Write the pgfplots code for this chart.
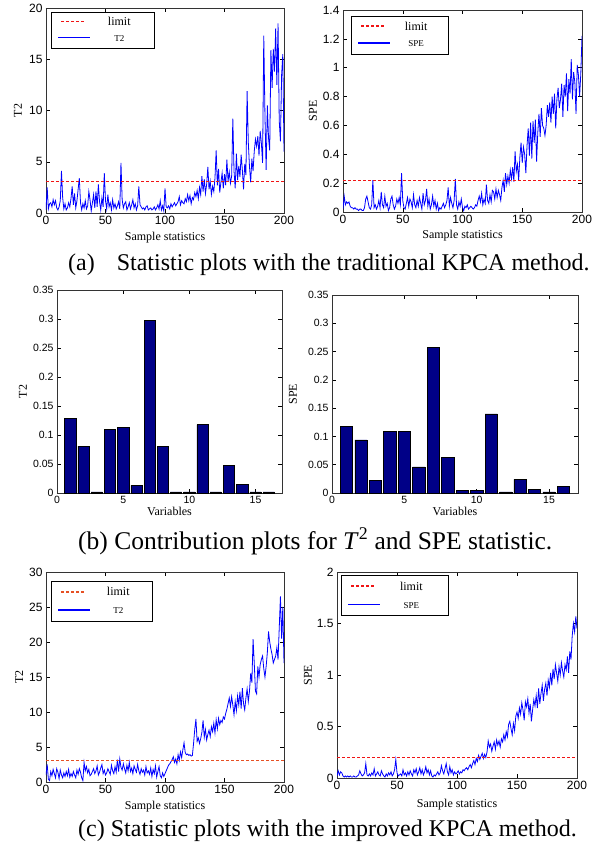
\documentclass[border=0pt]{standalone}
\usepackage{pgfplots}
\pgfplotsset{compat=1.18}
\usepackage{fontspec}
\setmainfont{Liberation Serif}
\newfontfamily\arial{Liberation Sans}

\definecolor{barblue}{RGB}{0,0,135}
\definecolor{limred}{RGB}{240,20,20}
\definecolor{limorange}{RGB}{230,80,35}

% legend samples, set as coloured rules
\newcommand{\dashsample}[1]{{\color{#1}\leaders\hbox to 5pt{\rule[3.3pt]{3pt}{1.4pt}\hfil}\hskip 32pt\relax}}
\newcommand{\solidsample}{{\color{blue}\rule[3.3pt]{32pt}{1.3pt}}}
% #1 limit colour, #2 series name, #3 text box width, #4 row stretch
\newcommand{\lgd}[4]{\def\arraystretch{#4}%
  \begin{tabular}{@{\hspace{7pt}}c@{}c@{\hspace{6pt}}}
    \dashsample{#1} & \makebox[#3]{limit}\\
    \solidsample & \makebox[#3]{\fontsize{9}{10}\selectfont #2}
  \end{tabular}}

\pgfplotsset{
  mat/.style={
    scale only axis,
    axis line style={line width=0.5pt, black!80},
    tick style={line width=0.5pt, black},
    major tick length=4pt,
    scaled ticks=false,
    /pgf/number format/assume math mode=true,
    /pgf/number format/fixed,
    /pgf/number format/precision=2,
    tick label style={font=\arial\fontsize{12}{14}\selectfont},
    label style={font=\fontsize{12}{14}\selectfont},
    ylabel style={anchor=center},
    xlabel style={anchor=center},
  },
  bars/.style={ybar, bar width=0.85, fill=barblue, draw=black, line width=0.5pt},
}
\tikzset{lgdbox/.style={draw=black, line width=0.6pt, anchor=north west,
    inner xsep=0pt, inner ysep=2pt, fill=white, font=\fontsize{12}{14}\selectfont}}

\begin{document}
\begin{tikzpicture}
\path[use as bounding box] (0,0) rectangle (597pt,-846pt);

% (a) traditional KPCA, T2
\begin{axis}[mat, at={(46pt,-213pt)}, anchor=south west,
    width=238pt, height=205pt,
    xmin=0, xmax=200, ymin=0, ymax=20,
    xtick={0,50,...,200}, ytick={0,5,...,20},
    xlabel={Sample statistics}, ylabel={T2},
    xlabel style={at={(axis description cs:0.5,-0.122)}},
    ylabel style={at={(axis description cs:-0.118,0.5)}},
  ]
  \addplot[draw=blue, line width=0.8pt] coordinates {
    (0,0.3)(1,2.5)(2,0.4)(3,0.9)(4,1.0)(5,0.6)(6,1.3)(7,0.8)(8,1.2)(9,0.5)
    (10,0.3)(11,0.6)(12,1.2)(13,4.1)(14,1.5)(15,0.4)(16,0.9)(17,0.3)(18,0.5)(19,1.0)
    (20,0.6)(21,1.4)(22,2.6)(23,0.8)(24,1.9)(25,0.5)(26,1.2)(27,2.3)(28,3.4)(29,1.0)
    (30,0.3)(31,0.9)(32,0.5)(33,1.2)(34,0.4)(35,0.7)(36,2.1)(37,1.3)(38,0.2)(39,1.0)
    (40,1.8)(41,0.5)(42,2.1)(43,0.6)(44,2.8)(45,1.1)(46,0.3)(47,1.5)(48,0.6)(49,3.9)
    (50,1.2)(51,0.4)(52,1.8)(53,0.6)(54,1.0)(55,0.3)(56,1.3)(57,0.5)(58,0.9)(59,0.4)
    (60,0.7)(61,1.1)(62,0.4)(63,4.9)(64,1.3)(65,0.5)(66,0.9)(67,1.1)(68,0.3)(69,0.6)
    (70,1.0)(71,0.4)(72,0.8)(73,1.3)(74,0.5)(75,0.9)(76,0.3)(77,0.7)(78,2.6)(79,0.8)
    (80,0.6)(81,0.4)(82,0.5)(83,0.3)(84,0.6)(85,0.7)(86,0.3)(87,0.4)(88,0.5)(89,0.3)
    (90,0.4)(91,0.6)(92,0.3)(93,0.5)(94,0.8)(95,0.4)(96,1.2)(97,0.3)(98,0.7)(99,0.2)
    (100,2.4)(101,0.6)(102,0.5)(103,0.7)(104,0.4)(105,0.9)(106,0.6)(107,0.8)(108,1.0)(109,0.7)
    (110,0.9)(111,1.1)(112,1.6)(113,0.8)(114,1.2)(115,1.0)(116,0.9)(117,1.4)(118,1.1)(119,1.8)
    (120,1.2)(121,1.7)(122,0.9)(123,1.5)(124,1.3)(125,2.0)(126,1.6)(127,2.2)(128,1.4)(129,2.5)
    (130,1.8)(131,3.6)(132,2.1)(133,3.3)(134,1.9)(135,2.8)(136,4.5)(137,2.3)(138,3.1)(139,1.8)
    (140,2.6)(141,2.1)(142,3.4)(143,6.1)(144,2.7)(145,4.3)(146,2.0)(147,3.0)(148,3.9)(149,2.4)
    (150,3.8)(151,2.7)(152,5.2)(153,3.1)(154,4.0)(155,2.9)(156,3.6)(157,9.2)(158,4.1)(159,2.4)
    (160,5.8)(161,3.2)(162,4.6)(163,3.5)(164,5.7)(165,4.2)(166,2.3)(167,4.8)(168,3.7)(169,11.9)
    (170,6.9)(171,4.5)(172,3.0)(173,5.3)(174,4.1)(175,6.0)(176,7.2)(177,6.5)(178,7.5)(179,5.6)
    (180,8.0)(181,6.8)(182,4.9)(183,17.3)(184,9.5)(185,4.2)(186,10.5)(187,7.3)(188,6.1)(189,15.9)
    (190,12.2)(191,16.0)(192,13.8)(193,18.0)(194,12.5)(195,18.5)(196,9.0)(197,7.0)(198,13.5)(199,15.5)
    (200,6.0)
  };
  \addplot[draw=limred, dash pattern=on 3pt off 2pt, line width=1.3pt] coordinates {(0,3.1) (200,3.1)};
  \node[lgdbox] at (rel axis cs:0.021,0.98) {\lgd{limred}{T2}{58pt}{1.14}};
\end{axis}

% (a) traditional KPCA, SPE
\begin{axis}[mat, at={(343pt,-212pt)}, anchor=south west,
    width=239pt, height=202pt,
    xmin=0, xmax=200, ymin=0, ymax=1.4,
    xtick={0,50,...,200}, ytick={0,0.2,0.4,0.6,0.8,1,1.2,1.4},
    xlabel={Sample statistics}, ylabel={SPE},
    xlabel style={at={(axis description cs:0.5,-0.119)}},
    ylabel style={at={(axis description cs:-0.126,0.5)}},
  ]
  \addplot[draw=blue, line width=0.8pt] coordinates {
    (0,0.02)(1,0.11)(2,0.05)(3,0.07)(4,0.06)(5,0.07)(6,0.04)(7,0.03)(8,0.03)(9,0.02)
    (10,0.03)(11,0.02)(12,0.02)(13,0.01)(14,0.02)(15,0.02)(16,0.01)(17,0.01)(18,0.03)(19,0.09)
    (20,0.11)(21,0.07)(22,0.03)(23,0.02)(24,0.05)(25,0.22)(26,0.03)(27,0.05)(28,0.02)(29,0.04)
    (30,0.08)(31,0.03)(32,0.14)(33,0.05)(34,0.03)(35,0.11)(36,0.04)(37,0.06)(38,0.01)(39,0.03)
    (40,0.09)(41,0.11)(42,0.05)(43,0.02)(44,0.04)(45,0.09)(46,0.06)(47,0.10)(48,0.05)(49,0.27)
    (50,0.08)(51,0.03)(52,0.02)(53,0.06)(54,0.10)(55,0.04)(56,0.09)(57,0.07)(58,0.03)(59,0.12)
    (60,0.05)(61,0.03)(62,0.08)(63,0.04)(64,0.10)(65,0.06)(66,0.02)(67,0.13)(68,0.05)(69,0.08)
    (70,0.16)(71,0.04)(72,0.09)(73,0.02)(74,0.05)(75,0.11)(76,0.04)(77,0.08)(78,0.02)(79,0.06)
    (80,0.01)(81,0.03)(82,0.02)(83,0.04)(84,0.06)(85,0.03)(86,0.05)(87,0.08)(88,0.17)(89,0.04)
    (90,0.10)(91,0.06)(92,0.03)(93,0.08)(94,0.23)(95,0.05)(96,0.02)(97,0.07)(98,0.04)(99,0.09)
    (100,0.03)(101,0.01)(102,0.04)(103,0.03)(104,0.05)(105,0.02)(106,0.03)(107,0.04)(108,0.03)(109,0.02)
    (110,0.03)(111,0.05)(112,0.04)(113,0.08)(114,0.11)(115,0.07)(116,0.13)(117,0.05)(118,0.09)(119,0.06)
    (120,0.19)(121,0.08)(122,0.06)(123,0.12)(124,0.07)(125,0.15)(126,0.14)(127,0.09)(128,0.16)(129,0.10)
    (130,0.15)(131,0.12)(132,0.08)(133,0.17)(134,0.22)(135,0.14)(136,0.27)(137,0.19)(138,0.25)(139,0.20)
    (140,0.29)(141,0.23)(142,0.31)(143,0.21)(144,0.42)(145,0.28)(146,0.33)(147,0.22)(148,0.38)(149,0.48)
    (150,0.34)(151,0.45)(152,0.40)(153,0.27)(154,0.46)(155,0.58)(156,0.39)(157,0.62)(158,0.37)(159,0.63)
    (160,0.48)(161,0.64)(162,0.35)(163,0.55)(164,0.68)(165,0.52)(166,0.72)(167,0.60)(168,0.58)(169,0.53)
    (170,0.60)(171,0.74)(172,0.66)(173,0.76)(174,0.62)(175,0.80)(176,0.68)(177,0.82)(178,0.58)(179,0.78)
    (180,0.86)(181,0.72)(182,0.78)(183,0.89)(184,0.66)(185,0.88)(186,0.80)(187,0.96)(188,0.70)(189,0.92)
    (190,0.82)(191,1.06)(192,0.78)(193,0.97)(194,0.90)(195,0.68)(196,1.02)(197,0.95)(198,0.80)(199,0.96)
    (200,1.22)
  };
  \addplot[draw=limred, dash pattern=on 3pt off 2pt, line width=1.3pt] coordinates {(0,0.22) (200,0.22)};
  \node[lgdbox] at (rel axis cs:0.033,0.97) {\lgd{limred}{SPE}{52pt}{1.2}};
\end{axis}

% (b) contribution plots, T2
\begin{axis}[mat, at={(57pt,-493pt)}, anchor=south west,
    width=225pt, height=203pt,
    xmin=0, xmax=17, ymin=0, ymax=0.35,
    xtick={0,5,10,15}, ytick={0,0.05,...,0.35},
    tick label style={font=\arial\fontsize{10.5}{12}\selectfont},
    xlabel={Variables}, ylabel={T2},
    xlabel style={at={(axis description cs:0.5,-0.092)}},
    ylabel style={at={(axis description cs:-0.151,0.5)}},
  ]
  \addplot[bars] coordinates {
    (1,0.129)(2,0.081)(3,0.002)(4,0.110)(5,0.113)(6,0.013)(7,0.298)(8,0.081)
    (9,0.002)(10,0.002)(11,0.118)(12,0.002)(13,0.047)(14,0.015)(15,0.002)(16,0.002)
  };
\end{axis}

% (b) contribution plots, SPE
\begin{axis}[mat, at={(332pt,-493pt)}, anchor=south west,
    width=246pt, height=198pt,
    xmin=0, xmax=17, ymin=0, ymax=0.35,
    xtick={0,5,10,15}, ytick={0,0.05,...,0.35},
    tick label style={font=\arial\fontsize{10.5}{12}\selectfont},
    xlabel={Variables}, ylabel={SPE},
    xlabel style={at={(axis description cs:0.5,-0.094)}},
    ylabel style={at={(axis description cs:-0.159,0.5)}},
  ]
  \addplot[bars] coordinates {
    (1,0.118)(2,0.094)(3,0.022)(4,0.109)(5,0.109)(6,0.046)(7,0.258)(8,0.063)
    (9,0.005)(10,0.004)(11,0.140)(12,0.002)(13,0.024)(14,0.007)(15,0.002)(16,0.012)
  };
\end{axis}

% (c) improved KPCA, T2
\begin{axis}[mat, at={(46pt,-782pt)}, anchor=south west,
    width=238pt, height=210pt,
    xmin=0, xmax=200, ymin=0, ymax=30,
    xtick={0,50,...,200}, ytick={0,5,...,30},
    xlabel={Sample statistics}, ylabel={T2},
    xlabel style={at={(axis description cs:0.5,-0.119)}},
    ylabel style={at={(axis description cs:-0.113,0.5)}},
  ]
  \addplot[draw=blue, line width=0.8pt] coordinates {
    (0,1.0)(1,2.5)(2,0.4)(3,0.2)(4,1.5)(5,0.9)(6,1.8)(7,1.2)(8,0.6)(9,1.9)
    (10,1.4)(11,0.5)(12,1.7)(13,1.0)(14,0.6)(15,1.3)(16,0.8)(17,1.5)(18,0.9)(19,1.8)
    (20,0.7)(21,1.2)(22,0.8)(23,1.5)(24,1.0)(25,0.6)(26,1.7)(27,1.1)(28,1.9)(29,1.4)
    (30,0.6)(31,0.2)(32,2.8)(33,1.6)(34,2.2)(35,1.3)(36,1.8)(37,0.9)(38,1.1)(39,1.5)
    (40,1.9)(41,1.2)(42,1.6)(43,2.3)(44,1.0)(45,1.4)(46,2.0)(47,2.5)(48,1.2)(49,1.7)
    (50,1.0)(51,1.3)(52,1.9)(53,1.5)(54,1.1)(55,2.4)(56,1.6)(57,1.2)(58,2.2)(59,1.4)
    (60,3.2)(61,1.5)(62,3.3)(63,2.1)(64,1.7)(65,2.6)(66,1.9)(67,1.3)(68,2.4)(69,1.6)
    (70,2.8)(71,1.5)(72,2.0)(73,1.2)(74,2.3)(75,1.8)(76,1.4)(77,2.5)(78,1.6)(79,1.1)
    (80,1.9)(81,1.4)(82,1.7)(83,1.0)(84,2.2)(85,1.3)(86,1.6)(87,1.1)(88,2.0)(89,0.8)
    (90,1.8)(91,1.2)(92,2.3)(93,0.7)(94,1.5)(95,2.2)(96,0.9)(97,0.6)(98,1.3)(99,0.8)
    (100,1.2)(101,1.6)(102,2.0)(103,2.4)(104,2.6)(105,2.9)(106,3.2)(107,3.6)(108,2.8)(109,3.3)
    (110,2.6)(111,3.9)(112,3.1)(113,4.3)(114,3.5)(115,4.6)(116,5.6)(117,4.2)(118,3.9)(119,4.0)
    (120,3.8)(121,3.9)(122,3.7)(123,3.8)(124,5.5)(125,7.5)(126,9.0)(127,5.8)(128,6.3)(129,5.5)
    (130,6.2)(131,7.1)(132,8.8)(133,6.4)(134,7.5)(135,6.0)(136,6.8)(137,7.4)(138,6.5)(139,7.9)
    (140,7.2)(141,8.4)(142,7.0)(143,8.9)(144,7.6)(145,9.1)(146,8.2)(147,8.8)(148,8.5)(149,9.3)
    (150,9.0)(151,9.8)(152,10.4)(153,11.2)(154,12.0)(155,10.8)(156,12.2)(157,11.0)(158,9.6)(159,11.5)
    (160,10.2)(161,12.3)(162,11.0)(163,12.9)(164,10.5)(165,13.4)(166,11.2)(167,10.3)(168,12.0)(169,13.3)
    (170,11.5)(171,13.0)(172,15.5)(173,14.2)(174,20.4)(175,17.0)(176,13.0)(177,12.6)(178,16.5)(179,15.0)
    (180,16.8)(181,17.5)(182,18.0)(183,16.2)(184,15.0)(185,16.5)(186,18.5)(187,21.5)(188,20.0)(189,19.0)
    (190,18.2)(191,17.0)(192,17.5)(193,18.0)(194,19.2)(195,17.5)(196,22.0)(197,26.5)(198,20.5)(199,25.0)
    (200,17.0)
  };
  \addplot[draw=limorange, dash pattern=on 3pt off 2pt, line width=1.3pt] coordinates {(0,3.1) (200,3.1)};
  \node[lgdbox] at (rel axis cs:0.021,0.957) {\lgd{limorange}{T2}{56pt}{1.28}};
\end{axis}

% (c) improved KPCA, SPE
\begin{axis}[mat, at={(337pt,-778pt)}, anchor=south west,
    width=240pt, height=206pt,
    xmin=0, xmax=200, ymin=0, ymax=2,
    xtick={0,50,...,200}, ytick={0,0.5,1,1.5,2},
    xlabel={Sample statistics}, ylabel={SPE},
    xlabel style={at={(axis description cs:0.5,-0.131)}},
    ylabel style={at={(axis description cs:-0.121,0.5)}},
  ]
  \addplot[draw=blue, line width=0.8pt] coordinates {
    (0,0.02)(1,0.07)(2,0.03)(3,0.06)(4,0.05)(5,0.02)(6,0.01)(7,0.02)(8,0.01)(9,0.02)
    (10,0.01)(11,0.02)(12,0.01)(13,0.01)(14,0.02)(15,0.01)(16,0.01)(17,0.02)(18,0.03)(19,0.07)
    (20,0.04)(21,0.02)(22,0.03)(23,0.05)(24,0.14)(25,0.03)(26,0.02)(27,0.04)(28,0.02)(29,0.05)
    (30,0.03)(31,0.09)(32,0.02)(33,0.04)(34,0.06)(35,0.03)(36,0.02)(37,0.07)(38,0.04)(39,0.02)
    (40,0.01)(41,0.04)(42,0.02)(43,0.05)(44,0.03)(45,0.06)(46,0.02)(47,0.04)(48,0.08)(49,0.18)
    (50,0.05)(51,0.02)(52,0.03)(53,0.04)(54,0.02)(55,0.08)(56,0.03)(57,0.05)(58,0.02)(59,0.06)
    (60,0.03)(61,0.07)(62,0.04)(63,0.02)(64,0.08)(65,0.05)(66,0.09)(67,0.03)(68,0.06)(69,0.10)
    (70,0.04)(71,0.08)(72,0.03)(73,0.06)(74,0.11)(75,0.05)(76,0.08)(77,0.03)(78,0.07)(79,0.02)
    (80,0.01)(81,0.03)(82,0.02)(83,0.04)(84,0.06)(85,0.03)(86,0.05)(87,0.12)(88,0.07)(89,0.04)
    (90,0.09)(91,0.14)(92,0.06)(93,0.03)(94,0.11)(95,0.05)(96,0.08)(97,0.03)(98,0.06)(99,0.04)
    (100,0.05)(101,0.07)(102,0.04)(103,0.06)(104,0.05)(105,0.08)(106,0.07)(107,0.09)(108,0.10)(109,0.08)
    (110,0.11)(111,0.13)(112,0.10)(113,0.14)(114,0.17)(115,0.13)(116,0.19)(117,0.16)(118,0.22)(119,0.18)
    (120,0.21)(121,0.24)(122,0.19)(123,0.23)(124,0.20)(125,0.25)(126,0.36)(127,0.30)(128,0.33)(129,0.26)
    (130,0.31)(131,0.35)(132,0.28)(133,0.37)(134,0.32)(135,0.36)(136,0.30)(137,0.38)(138,0.35)(139,0.42)
    (140,0.37)(141,0.45)(142,0.40)(143,0.52)(144,0.55)(145,0.48)(146,0.42)(147,0.53)(148,0.46)(149,0.60)
    (150,0.64)(151,0.58)(152,0.68)(153,0.62)(154,0.73)(155,0.66)(156,0.56)(157,0.74)(158,0.69)(159,0.77)
    (160,0.63)(161,0.72)(162,0.55)(163,0.66)(164,0.76)(165,0.70)(166,0.80)(167,0.68)(168,0.87)(169,0.72)
    (170,0.82)(171,0.90)(172,0.75)(173,0.86)(174,0.92)(175,0.80)(176,0.95)(177,0.88)(178,1.02)(179,0.90)
    (180,1.06)(181,0.96)(182,1.10)(183,1.02)(184,0.94)(185,1.08)(186,1.00)(187,1.12)(188,1.04)(189,0.98)
    (190,1.10)(191,1.05)(192,1.18)(193,1.02)(194,1.23)(195,1.15)(196,1.38)(197,1.50)(198,1.42)(199,1.57)
    (200,1.45)
  };
  \addplot[draw=limred, dash pattern=on 3pt off 2pt, line width=1.3pt] coordinates {(0,0.2) (200,0.2)};
  \node[lgdbox] at (rel axis cs:0.017,0.985) {\lgd{limred}{SPE}{62pt}{1.3}};
\end{axis}

% captions
\node[anchor=base west, font=\fontsize{24}{28}\selectfont, inner sep=0pt]
  at (68pt,-270pt) {(a)\hspace{22pt}Statistic plots with the traditional KPCA method.};
\node[anchor=base west, font=\fontsize{25.5}{29}\selectfont, inner sep=0pt]
  at (78pt,-549pt) {(b) Contribution plots for \textit{T}\textsuperscript{2} and SPE statistic.};
\node[anchor=base west, font=\fontsize{24}{28}\selectfont, inner sep=0pt]
  at (78pt,-836pt) {(c) Statistic plots with the improved KPCA method.};
\end{tikzpicture}
\end{document}
